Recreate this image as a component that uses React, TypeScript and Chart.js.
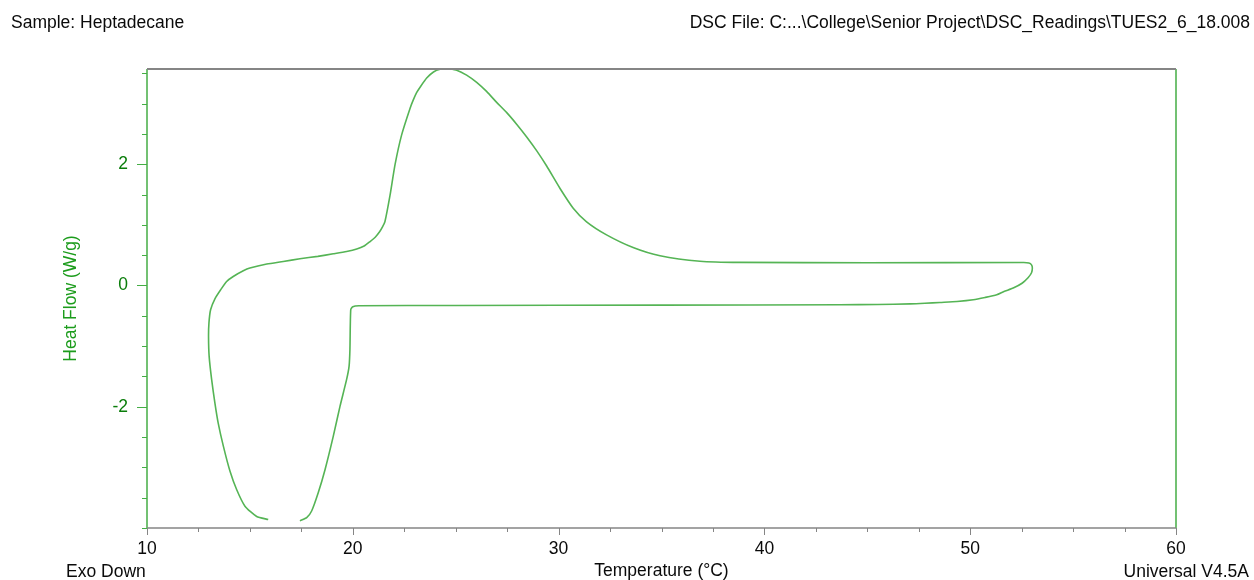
import React, { useEffect, useRef } from "react";
import { Chart, registerables } from "chart.js";

Chart.register(...registerables);

// DSC trace: Heptadecane, heat flow (W/g) vs temperature (°C), one continuous loop
const temperatureC = [
  15.89, 15.33, 14.76, 14.36, 14.03, 13.71, 13.46, 13.3, 13.14, 13.02, 12.99, 13.01, 13.09, 13.3, 13.58,
  13.87, 14.19, 14.68, 15.0, 15.82, 16.62, 17.43, 18.3, 19.05, 19.7, 20.19, 20.55, 20.84, 21.1, 21.31,
  21.45, 21.56, 21.81, 22.05, 22.37, 22.78, 22.94, 23.1, 23.27, 23.59, 23.92, 24.24, 24.6, 25.05, 25.53,
  26.02, 26.5, 26.99, 27.48, 27.96, 28.45, 28.94, 29.42, 30.07, 30.71, 31.36, 32.33, 33.62, 34.93, 36.87,
  38.8, 45.0, 52.6, 52.85, 52.98, 53.02, 52.98, 52.81, 52.52, 52.09, 51.64, 51.29, 50.72, 50.15, 49.36,
  48.53, 47.8, 47.08, 45.5, 43.67, 35.0, 25.0, 20.3, 20.0, 19.9, 19.86, 19.82, 19.7, 19.38, 19.05,
  18.65, 18.32, 18.0, 17.76, 17.43,
];
const heatFlowWg = [
  -3.86, -3.81, -3.64, -3.37, -3.06, -2.65, -2.27, -1.94, -1.55, -1.17, -0.85, -0.62, -0.4, -0.22, -0.07,
  0.066, 0.148, 0.242, 0.287, 0.353, 0.395, 0.44, 0.48, 0.522, 0.56, 0.6, 0.65, 0.725, 0.8, 0.89,
  0.97, 1.05, 1.49, 1.99, 2.48, 2.92, 3.06, 3.18, 3.27, 3.42, 3.52, 3.565, 3.575, 3.55, 3.47,
  3.35, 3.2, 3.02, 2.85, 2.66, 2.45, 2.22, 1.97, 1.6, 1.275, 1.05, 0.835, 0.626, 0.49, 0.4,
  0.38, 0.375, 0.379, 0.37, 0.34, 0.287, 0.21, 0.127, 0.036, -0.043, -0.1, -0.153, -0.198, -0.236, -0.264,
  -0.28, -0.294, -0.304, -0.313, -0.318, -0.325, -0.33, -0.335, -0.35, -0.4, -1.06, -1.33, -1.55, -1.99, -2.49,
  -3.04, -3.42, -3.72, -3.83, -3.88,
];

const xTickValues = [10, 12.5, 15, 17.5, 20, 22.5, 25, 27.5, 30, 32.5, 35, 37.5, 40, 42.5, 45, 47.5, 50, 52.5, 55, 57.5, 60];
const xLabeledTicks = [10, 20, 30, 40, 50, 60];
const yTickValues = [-4, -3.5, -3, -2.5, -2, -1.5, -1, -0.5, 0, 0.5, 1, 1.5, 2, 2.5, 3, 3.5];
const yLabeledTicks = [-2, 0, 2];

const FONT = "'Liberation Sans', Arial, Helvetica, sans-serif";
const FONT_SIZE = 17.5;
const CURVE = "#55b455";
const AXIS_GREEN = "#45ad45";
const LABEL_GREEN = "#0a7d0a";
const TITLE_GREEN = "#1c9c1c";
const GRAY = "#858585";
const TEXT = "#0a0a0a";

const isIn = (arr: number[], v: number) => arr.some((a) => Math.abs(a - v) < 1e-6);

const axesPlugin = {
  id: "dscAxes",
  afterDraw(chart: any) {
    const { ctx, chartArea: a, scales } = chart;
    const x = scales.x;
    const y = scales.y;
    ctx.save();
    ctx.strokeStyle = GRAY;
    ctx.lineWidth = 1;
    x.ticks.forEach((t: any) => {
      const px = Math.round(x.getPixelForValue(t.value)) + 0.5;
      const len = isIn(xLabeledTicks, t.value) ? 7 : 4;
      ctx.beginPath();
      ctx.moveTo(px, a.bottom);
      ctx.lineTo(px, a.bottom + len);
      ctx.stroke();
    });
    ctx.strokeStyle = AXIS_GREEN;
    y.ticks.forEach((t: any) => {
      const py = Math.round(y.getPixelForValue(t.value)) + 0.5;
      const len = isIn(yLabeledTicks, t.value) ? 10 : 5;
      ctx.beginPath();
      ctx.moveTo(a.left, py);
      ctx.lineTo(a.left - len, py);
      ctx.stroke();
    });
    ctx.lineWidth = 1.5;
    ctx.strokeStyle = AXIS_GREEN;
    ctx.beginPath();
    ctx.moveTo(a.left, a.top);
    ctx.lineTo(a.left, a.bottom);
    ctx.moveTo(a.right, a.top);
    ctx.lineTo(a.right, a.bottom);
    ctx.stroke();
    ctx.strokeStyle = GRAY;
    ctx.lineWidth = 2;
    ctx.beginPath();
    ctx.moveTo(a.left, a.top);
    ctx.lineTo(a.right, a.top);
    ctx.stroke();
    ctx.lineWidth = 1.5;
    ctx.beginPath();
    ctx.moveTo(a.left, a.bottom);
    ctx.lineTo(a.right, a.bottom);
    ctx.stroke();
    ctx.restore();
  },
};

function DscChart() {
  const canvasRef = useRef<HTMLCanvasElement | null>(null);

  useEffect(() => {
    const canvas = canvasRef.current;
    if (!canvas) return;
    const points = temperatureC.map((t, i) => ({ x: t, y: heatFlowWg[i] }));
    const chart = new Chart(canvas, {
      type: "scatter",
      data: {
        datasets: [
          {
            label: "Heat Flow",
            data: points,
            showLine: true,
            borderColor: CURVE,
            borderWidth: 1.6,
            pointRadius: 0,
            pointHoverRadius: 0,
            tension: 0.2,
            fill: false,
          },
        ],
      },
      options: {
        animation: false,
        responsive: false,
        events: [],
        layout: { padding: { top: 69, right: 78, left: 0, bottom: 0 } },
        plugins: {
          legend: { display: false },
          tooltip: { enabled: false },
          title: { display: false },
        },
        scales: {
          x: {
            type: "linear",
            position: "bottom",
            min: 10,
            max: 60,
            afterBuildTicks: (s: any) => {
              s.ticks = xTickValues.map((v) => ({ value: v }));
            },
            afterFit: (s: any) => {
              s.height = 52;
            },
            grid: { drawOnChartArea: false, drawTicks: true, tickLength: 7, color: "rgba(0,0,0,0)" },
            border: { display: false },
            ticks: {
              autoSkip: false,
              maxRotation: 0,
              padding: 4,
              color: TEXT,
              font: { family: FONT, size: FONT_SIZE },
              callback: (v: any) => (isIn(xLabeledTicks, Number(v)) ? String(v) : ""),
            },
            title: {
              display: true,
              text: "Temperature (°C)",
              color: TEXT,
              font: { family: FONT, size: FONT_SIZE, lineHeight: 1 },
              padding: { top: 0, bottom: 0 },
            },
          },
          y: {
            type: "linear",
            position: "left",
            min: -4,
            max: 3.57,
            afterBuildTicks: (s: any) => {
              s.ticks = yTickValues.map((v) => ({ value: v }));
            },
            afterFit: (s: any) => {
              s.width = 147;
            },
            grid: { drawOnChartArea: false, drawTicks: true, tickLength: 10, color: "rgba(0,0,0,0)" },
            border: { display: false },
            ticks: {
              autoSkip: false,
              padding: 9,
              color: LABEL_GREEN,
              font: { family: FONT, size: FONT_SIZE },
              callback: (v: any) => (isIn(yLabeledTicks, Number(v)) ? String(v) : ""),
            },
            title: {
              display: true,
              text: "Heat Flow (W/g)",
              color: TITLE_GREEN,
              font: { family: FONT, size: FONT_SIZE, lineHeight: 1 },
              padding: { top: 62, bottom: 0 },
            },
          },
        },
      },
      plugins: [axesPlugin],
    } as any);
    return () => chart.destroy();
  }, []);

  return <canvas ref={canvasRef} width={1254} height={580} style={{ display: "block" }} />;
}

const textBase: React.CSSProperties = {
  position: "absolute",
  fontFamily: FONT,
  fontSize: FONT_SIZE,
  lineHeight: "20px",
  color: TEXT,
  whiteSpace: "nowrap",
};

export default function App() {
  return (
    <div style={{ position: "absolute", left: 0, top: 0, width: 1254, height: 580, background: "#ffffff", overflow: "hidden" }}>
      <DscChart />
      <div style={{ ...textBase, left: 11, top: 12 }}>Sample: Heptadecane</div>
      <div style={{ ...textBase, right: 4, top: 12 }}>
        DSC File: C:...\College\Senior Project\DSC_Readings\TUES2_6_18.008
      </div>
      <div style={{ ...textBase, left: 66, top: 561 }}>Exo Down</div>
      <div style={{ ...textBase, right: 5, top: 561 }}>Universal V4.5A</div>
    </div>
  );
}
